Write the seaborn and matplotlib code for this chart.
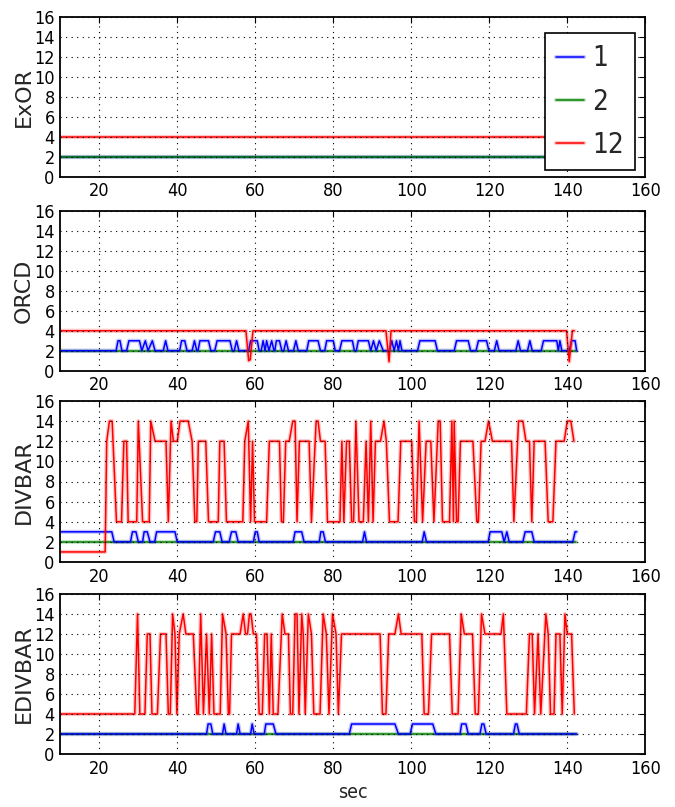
import matplotlib
matplotlib.use("Agg")
import matplotlib.pyplot as plt
import matplotlib.patheffects as pe
import numpy as np
import pandas as pd
import seaborn as sns

# ---------------- data ----------------
panel_names = ["ExOR", "ORCD", "DIVBAR", "EDIVBAR"]
series_labels = ["1", "2", "12"]
series_colors = ["#0000ff", "#008000", "#ff0000"]
x_ticks = [20, 40, 60, 80, 100, 120, 140, 160]
y_ticks = [0, 2, 4, 6, 8, 10, 12, 14, 16]

# (sec, value) vertices of each series
exor_1 = [(10, 2), (142.3, 2)]
exor_2 = [(10, 2), (142.3, 2)]
exor_12 = [(10, 4), (142.3, 4)]

orcd_1 = [(10, 2), (24.3, 2), (24.8, 3), (25.3, 3), (25.8, 2), (27.0, 2), (27.6, 3), (30.3, 3),
          (30.9, 2), (31.8, 3), (32.5, 2), (33.6, 3), (34.3, 2), (36.4, 2), (37.0, 3), (37.6, 2),
          (40.6, 2), (41.1, 3), (41.9, 3), (42.5, 2), (43.8, 2), (44.4, 3), (45.0, 2), (45.3, 2),
          (45.8, 3), (48.0, 3), (48.6, 2), (49.6, 2), (50.2, 3), (53.5, 3), (54.1, 2), (54.6, 2),
          (55.2, 3), (55.8, 2), (58.3, 2), (58.8, 3), (60.5, 3), (61.0, 2), (61.5, 2), (62.0, 3),
          (62.5, 2), (62.9, 3), (63.5, 2), (64.2, 3), (64.8, 2), (65.0, 2), (65.4, 3), (66.2, 3),
          (66.8, 2), (67.3, 2), (67.9, 3), (68.5, 2), (69.8, 2), (70.4, 3), (71.0, 2), (73.2, 2),
          (73.7, 3), (76.1, 3), (76.7, 2), (77.8, 2), (78.3, 3), (80.0, 3), (80.5, 2), (81.6, 2),
          (82.2, 3), (84.9, 3), (85.4, 2), (85.9, 2), (86.4, 3), (89.0, 3), (89.6, 2), (90.3, 3),
          (91.0, 2), (91.8, 3), (92.8, 2), (94.4, 2), (95.0, 3), (95.6, 2), (96.2, 3), (96.7, 2),
          (97.1, 3), (97.6, 2), (101.6, 2), (102.2, 3), (106.1, 3), (106.7, 2), (111.0, 2),
          (111.6, 3), (114.6, 3), (115.2, 2), (116.6, 2), (117.2, 3), (119.3, 3), (119.9, 2),
          (121.3, 2), (121.9, 3), (122.5, 2), (126.8, 2), (127.4, 3), (128.0, 2), (129.8, 2),
          (130.4, 3), (131.0, 2), (133.3, 2), (133.9, 3), (137.3, 3), (137.7, 2), (138.1, 3),
          (138.6, 2), (140.5, 2), (141.1, 3), (142.0, 3), (142.4, 2)]
orcd_2 = [(10, 2), (142.3, 2)]
orcd_12 = [(10, 4), (57.6, 4), (58.3, 1), (58.7, 1.1), (59.4, 4), (93.5, 4), (94.3, 0.9),
           (94.8, 4), (139.8, 4), (140.5, 0.9), (141.3, 4), (141.8, 4)]

divbar_1 = [(10, 3), (23.2, 3), (23.8, 2), (28.0, 2), (28.5, 3), (29.4, 3), (30.0, 2), (31.1, 2),
            (31.5, 3), (32.3, 3), (33.0, 2), (34.2, 2), (34.7, 3), (39.4, 3), (40.0, 2), (49.2, 2),
            (49.8, 3), (50.9, 3), (51.5, 2), (53.3, 2), (53.9, 3), (55.0, 3), (55.6, 2), (59.5, 2),
            (60.0, 3), (60.5, 3), (61.0, 2), (69.7, 2), (70.2, 3), (71.9, 3), (72.5, 2), (76.4, 2),
            (76.8, 3), (77.4, 3), (78.0, 2), (87.5, 2), (88.0, 3), (88.5, 2), (102.8, 2),
            (103.3, 3), (103.9, 2), (119.7, 2), (120.2, 3), (123.2, 3), (123.8, 2), (124.5, 3),
            (125.1, 2), (128.6, 2), (129.2, 3), (130.9, 3), (131.5, 2), (141.4, 2), (142.0, 3),
            (142.4, 3)]
divbar_2 = [(10, 2), (142.3, 2)]
divbar_12 = [(10, 1), (21.5, 1), (21.9, 12), (22.6, 14), (23.3, 14), (24.4, 4), (25.7, 4),
             (26.3, 12), (27.0, 12), (27.4, 4), (29.6, 4), (30.0, 14), (31.1, 4), (32.8, 4),
             (33.2, 14), (34.3, 12), (37.1, 12), (37.7, 4), (38.4, 14), (39.0, 12), (40.0, 12),
             (40.7, 14), (42.8, 14), (43.8, 12), (44.5, 4), (45.0, 4), (45.4, 12), (47.3, 12),
             (48.0, 4), (50.5, 4), (50.9, 12), (52.0, 12), (52.6, 4), (56.8, 4), (57.3, 12),
             (58.2, 14), (58.8, 4), (59.3, 12), (59.8, 4), (62.9, 4), (63.6, 12), (66.2, 12),
             (66.7, 4), (67.2, 4), (67.8, 12), (68.7, 12), (69.6, 14), (70.2, 14), (70.7, 4),
             (71.3, 12), (73.8, 12), (74.4, 4), (75.6, 14), (76.1, 14), (76.7, 12), (77.9, 12),
             (78.5, 4), (81.7, 4), (82.2, 12), (82.7, 4), (83.4, 12), (84.1, 12), (84.7, 4),
             (85.2, 4), (85.8, 14), (86.6, 4), (87.7, 4), (88.4, 12), (89.0, 4), (89.6, 14),
             (90.2, 4), (90.8, 12), (92.1, 12), (93.0, 14), (93.6, 12), (94.4, 4), (96.6, 4),
             (97.3, 12), (100.1, 12), (100.8, 4), (101.3, 4), (102.0, 14), (102.9, 4), (103.8, 12),
             (105.0, 12), (105.8, 4), (106.9, 14), (107.4, 14), (108.0, 4), (109.8, 4), (110.4, 14),
             (110.8, 4), (111.0, 14), (111.6, 4), (112.0, 4), (112.6, 12), (115.8, 12), (116.8, 4),
             (117.2, 4), (117.9, 12), (118.9, 12), (119.8, 14), (120.8, 12), (125.7, 12),
             (126.3, 4), (127.5, 14), (128.6, 14), (129.4, 12), (130.3, 12), (130.9, 4),
             (131.5, 12), (134.3, 12), (135.1, 4), (136.3, 4), (137.1, 12), (139.2, 12),
             (140.0, 14), (140.9, 14), (141.7, 12)]

edivbar_1 = [(10, 2), (47.5, 2), (47.9, 3), (48.6, 3), (49.1, 2), (51.6, 2), (52.0, 3), (52.5, 2),
             (55.2, 2), (55.6, 3), (56.1, 2), (58.8, 2), (59.2, 3), (59.7, 2), (62.3, 2), (62.7, 3),
             (64.6, 3), (65.3, 2), (84.1, 2), (84.7, 3), (95.8, 3), (96.7, 2), (99.7, 2), (100.3, 3),
             (105.5, 3), (106.3, 2), (112.5, 2), (112.9, 3), (114.0, 3), (114.6, 2), (117.6, 2),
             (118.1, 3), (118.6, 3), (119.2, 2), (126.2, 2), (126.7, 3), (127.1, 3), (127.7, 2),
             (142.4, 2)]
edivbar_2 = [(10, 2), (142.3, 2)]
edivbar_12 = [(10, 4), (29.1, 4), (29.8, 14), (30.4, 4), (31.7, 4), (32.3, 12), (33.0, 12),
              (33.5, 4), (34.9, 4), (35.7, 12), (37.1, 12), (37.7, 4), (38.2, 4), (38.8, 14),
              (39.4, 12), (39.9, 4), (40.5, 12), (41.5, 14), (42.2, 12), (44.1, 12), (45.0, 4),
              (45.4, 4), (46.0, 14), (46.7, 4), (47.5, 12), (48.2, 4), (48.8, 12), (49.4, 4),
              (51.0, 4), (51.6, 14), (52.5, 12), (53.1, 4), (53.4, 4), (53.9, 12), (56.1, 12),
              (56.9, 14), (57.5, 12), (58.0, 12), (58.5, 14), (58.9, 14), (59.5, 12), (60.3, 12),
              (61.0, 4), (61.8, 4), (62.4, 12), (63.0, 12), (63.6, 4), (64.1, 12), (64.6, 4),
              (65.8, 4), (66.9, 14), (67.6, 12), (68.5, 12), (69.0, 4), (69.6, 4), (70.2, 14),
              (70.7, 14), (71.2, 4), (71.9, 14), (72.3, 12), (72.8, 4), (73.6, 14), (74.4, 12),
              (75.0, 4), (76.6, 4), (77.4, 14), (78.2, 12), (78.9, 4), (79.8, 14), (80.7, 12),
              (81.3, 4), (82.1, 12), (92.0, 12), (92.6, 4), (93.5, 4), (94.2, 12), (95.8, 12),
              (96.7, 14), (97.4, 12), (102.7, 12), (103.3, 4), (104.4, 4), (105.2, 12), (109.8, 12),
              (110.5, 4), (112.0, 4), (112.8, 14), (113.6, 12), (115.7, 12), (116.4, 4), (117.2, 4),
              (118.0, 14), (118.9, 12), (123.0, 12), (123.6, 14), (124.5, 4), (129.5, 4),
              (130.3, 12), (131.0, 12), (131.6, 4), (132.5, 12), (133.2, 4), (134.5, 14),
              (135.1, 12), (135.7, 4), (136.6, 4), (137.1, 12), (138.1, 12), (138.7, 4),
              (139.4, 14), (140.0, 12), (141.1, 12), (141.8, 4)]

panels = [
    (exor_1, exor_2, exor_12),
    (orcd_1, orcd_2, orcd_12),
    (divbar_1, divbar_2, divbar_12),
    (edivbar_1, edivbar_2, edivbar_12),
]

# ---------------- style ----------------
sns.set_theme(style="white")
plt.rcParams["font.family"] = ["DejaVu Sans"]
plt.rcParams["font.stretch"] = "condensed"
plt.rcParams["axes.linewidth"] = 1.3
plt.rcParams["axes.edgecolor"] = "black"

fig = plt.figure(figsize=(6.75, 8.07), dpi=100)
W, H = 675.0, 807.0
left_px, right_px = 60.3, 645.3
panel_px = [(17.3, 176.7), (211.0, 370.7), (401.0, 562.0), (594.0, 754.0)]

for i, (name, series) in enumerate(zip(panel_names, panels)):
    top, bot = panel_px[i]
    ax = fig.add_axes([left_px / W, 1 - bot / H, (right_px - left_px) / W, (bot - top) / H])
    for j, (pts, lab, col) in enumerate(zip(series, series_labels, series_colors)):
        df = pd.DataFrame(pts, columns=["sec", "value"])
        if i == 0:
            z = 2.0 + j * 0.1
        else:
            z = {0: 2.2, 1: 2.1, 2: 2.3}[j]
        sns.lineplot(data=df, x="sec", y="value", ax=ax, color=col, lw=1.1,
                     estimator=None, sort=False, legend=False, label=lab, zorder=z,
                     path_effects=[pe.Stroke(linewidth=3.0, foreground=col, alpha=0.22),
                                   pe.Normal()])
    ax.set_xlim(10, 160)
    ax.set_ylim(0, 16)
    ax.set_xticks(x_ticks)
    ax.set_yticks(y_ticks)
    ax.grid(True, color="black", linestyle=(0, (1, 4)), linewidth=0.8)
    ax.set_axisbelow(False)
    ax.tick_params(direction="in", top=True, right=True, length=4, width=0.8,
                   labelsize=13, pad=4, colors="black")
    for s in ax.spines.values():
        s.set_visible(True)
        s.set_color("black")
        s.set_linewidth(1.3)
    ax.set_ylabel(name, fontsize=16, fontstretch="normal", labelpad=0.5)
    if i == 3:
        ax.set_xlabel("sec", fontsize=14, labelpad=4)
    else:
        ax.set_xlabel("")
    if i == 0:
        leg = ax.legend(loc="upper right", bbox_to_anchor=(0.982, 0.90), borderaxespad=0,
                        fontsize=20, handlelength=1.0, handletextpad=0.3,
                        borderpad=0.4, labelspacing=0.55,
                        fancybox=False, framealpha=1, edgecolor="black", facecolor="white")
        leg.get_frame().set_linewidth(1.2)
        leg.set_zorder(5)

fig.savefig("out.png", dpi=100)
